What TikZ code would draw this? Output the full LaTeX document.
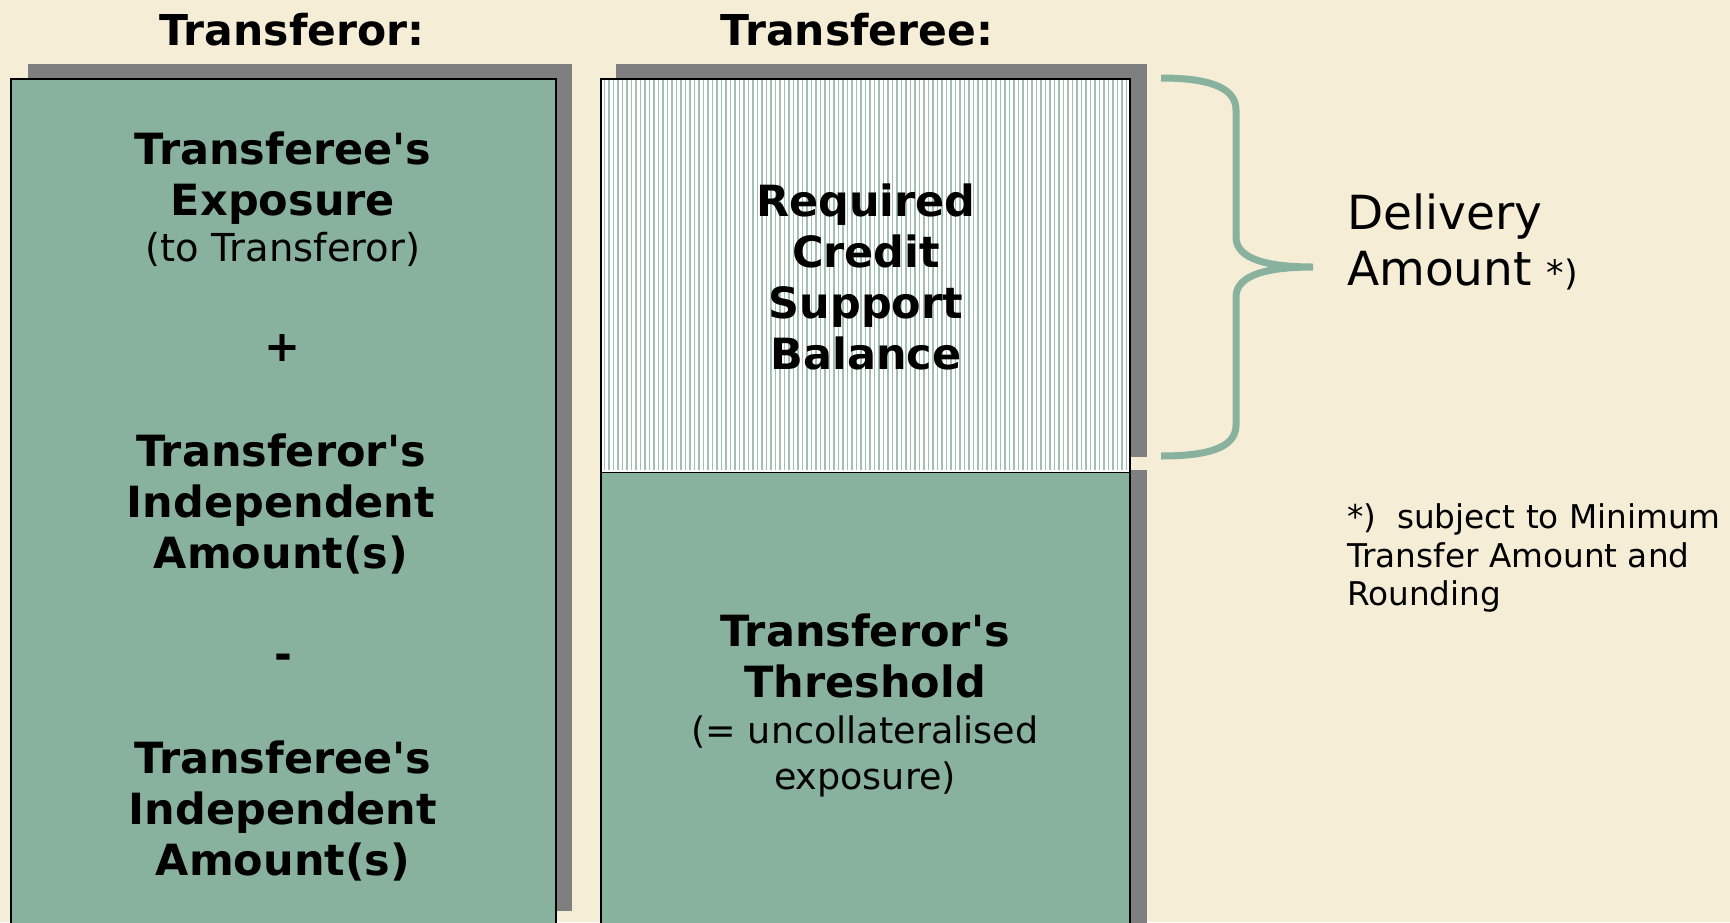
\documentclass[tikz,border=0pt]{standalone}
\usepackage{fontspec}
\setmainfont{DejaVu Sans}
\definecolor{paper}{HTML}{F5EDD6}
\definecolor{sage}{HTML}{88B29E}
\definecolor{shade}{HTML}{7F7F7F}
\tikzset{
  panel/.style={fill=sage, draw=black, line width=2pt},
  dropshadow/.style={fill=shade},
  hatchline/.style={draw=sage!80, line width=1.4pt},
  heading/.style={font=\fontsize{42.5}{50}\selectfont\bfseries, inner sep=0pt},
  heavy/.style={font=\fontsize{43}{51}\selectfont\bfseries, align=center, inner sep=0pt},
  light/.style={font=\fontsize{36.5}{46}\selectfont, align=center, inner sep=0pt},
  bigtext/.style={font=\fontsize{47}{56}\selectfont, align=left, inner sep=0pt, anchor=west},
  note/.style={font=\fontsize{32.7}{38.5}\selectfont, align=left, inner sep=0pt, anchor=west},
  bracket/.style={draw=sage, line width=7pt}
}
\begin{document}
\begin{tikzpicture}[x=1pt,y=-1pt]
\useasboundingbox (0,0) rectangle (1730,922);
\fill[paper] (0,0) rectangle (1730,922);
\clip (0,0) rectangle (1730,922);

% drop shadows behind the panels
\fill[dropshadow] (28,64) rectangle (572,911);
\fill[dropshadow] (616,64) rectangle (1147,457);
\fill[dropshadow] (616,470) rectangle (1147,940);

% left panel
\draw[panel] (11,79) rectangle (556,940);

% right column: lower panel
\draw[panel] (601,472) rectangle (1130,940);

% right column: upper hatched panel
\fill[white] (601,79) rectangle (1130,472);
\foreach \x in {604.5,609,...,1128} \draw[hatchline] (\x,80) -- (\x,470);
\draw[black, line width=2pt] (601,472) -- (601,79) -- (1130,79) -- (1130,472);

% headings
\node[heading] (htor) at (292,30) {Transferor:};
\node[heading] (htee) at (857,30) {Transferee:};

% left panel contents
\node[heavy] (expo) at (283,178) {Transferee\textquotesingle s\\Exposure};
\node[light, font=\fontsize{38.5}{46}\selectfont] (expoto) at (283,249) {(to Transferor)};
\node[heavy] (plus) at (283,348) {+};
\node[heavy] (iator) at (281,504) {Transferor\textquotesingle s\\Independent\\Amount(s)};
\node[heavy] (minus) at (283,662) {-};
\node[heavy] (iatee) at (283,811) {Transferee\textquotesingle s\\Independent\\Amount(s)};

% right column contents
\node[heavy] (rcsb) at (866,277) {Required\\Credit\\Support\\Balance};
\node[heavy] (thr) at (865,656) {Transferor\textquotesingle s\\Threshold};
\node[light] (unc) at (865,756) {(= uncollateralised\\exposure)};

% brace and its label
\draw[bracket] (1161,78) .. controls (1215,78) and (1236,90) .. (1236,110)
  -- (1236,237) .. controls (1236,260) and (1270,267) .. (1313,267)
  .. controls (1270,267) and (1236,274) .. (1236,297)
  -- (1236,425) .. controls (1236,445) and (1215,456) .. (1161,456);
\node[bigtext] (deliv) at (1347,242) {Delivery\\Amount\ {\fontsize{35}{36}\selectfont *)}};
\node[note] (fn) at (1347,558) {*)\ \ subject to Minimum\\Transfer Amount and\\Rounding};
\end{tikzpicture}
\end{document}
